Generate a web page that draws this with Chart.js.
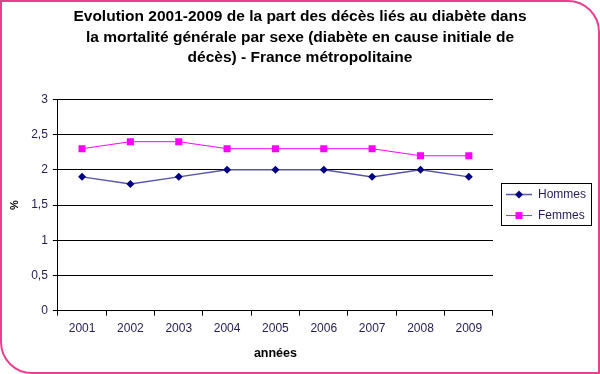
<!DOCTYPE html>
<html>
<head>
<meta charset="utf-8">
<script src="https://cdn.jsdelivr.net/npm/chart.js@4/dist/chart.umd.min.js"></script>
<style>
    html, body { margin: 0; padding: 0; background: #fff; }
    #cadre {
        width: 600px; height: 374px; box-sizing: border-box;
        border: 2px solid #e8408f; border-radius: 0 32px 0 32px;
        overflow: hidden;
    }
    canvas { display: block; }
</style>
</head>
<body>
<div id="cadre"><canvas id="graphique" width="596" height="370"></canvas></div>
<script>
// ================= DONNÉES =================
const annees  = ['2001', '2002', '2003', '2004', '2005', '2006', '2007', '2008', '2009'];
const hommes  = [1.9, 1.8, 1.9, 2.0, 2.0, 2.0, 1.9, 2.0, 1.9];
const femmes  = [2.3, 2.4, 2.4, 2.3, 2.3, 2.3, 2.3, 2.2, 2.2];
const yTicks  = ['0', '0,5', '1', '1,5', '2', '2,5', '3'];
const titre   = [
    'Evolution 2001-2009 de la part des décès liés au diabète dans',
    'la mortalité générale par sexe (diabète en cause initiale de',
    'décès) - France métropolitaine'
];

const police = 'Arial, "Liberation Sans", sans-serif';
const couleurTexte = '#241c55';

// symbole de légende : trait + marqueur
function symbole(ligne, marque, forme) {
    const c = document.createElement('canvas');
    c.width = 26; c.height = 11;
    const ctx = c.getContext('2d');
    ctx.strokeStyle = ligne;
    ctx.lineWidth = forme === 'rectRot' ? 1.5 : 1;
    ctx.beginPath(); ctx.moveTo(0, 5.5); ctx.lineTo(26, 5.5); ctx.stroke();
    ctx.fillStyle = marque;
    if (forme === 'rectRot') {
        ctx.beginPath();
        ctx.moveTo(13, 1.5); ctx.lineTo(17, 5.5); ctx.lineTo(13, 9.5); ctx.lineTo(9, 5.5);
        ctx.closePath(); ctx.fill();
    } else {
        ctx.fillRect(9.5, 2, 7, 7);
    }
    return c;
}

// légende décalée + cadre autour
const cadreLegende = {
    id: 'cadreLegende',
    afterLayout(chart) {
        const lg = chart.legend;
        const dx = chart.chartArea.right + 4 - lg.left;
        lg.left += dx;
        lg.right += dx;
    },
    afterDraw(chart) {
        const boxes = chart.legend.legendHitBoxes;
        if (!boxes || !boxes.length) return;
        const left = Math.min(...boxes.map(b => b.left)) - 5;
        const right = Math.max(...boxes.map(b => b.left + b.width)) + 5;
        const top = Math.min(...boxes.map(b => b.top)) - 6;
        const bottom = Math.max(...boxes.map(b => b.top + b.height)) + 3;
        const ctx = chart.ctx;
        ctx.save();
        ctx.strokeStyle = '#000';
        ctx.lineWidth = 1;
        ctx.strokeRect(Math.round(left) + 0.5, Math.round(top) + 0.5, Math.round(right - left), Math.round(bottom - top));
        ctx.restore();
    }
};

new Chart(document.getElementById('graphique'), {
    type: 'line',
    data: {
        labels: annees,
        datasets: [{
            label: 'Hommes',
            data: hommes,
            borderColor: '#5454a8',
            borderWidth: 1.5,
            pointStyle: 'rectRot',
            pointRadius: 4,
            pointBackgroundColor: '#000080',
            pointBorderColor: '#000080',
            pointBorderWidth: 0,
            tension: 0
        }, {
            label: 'Femmes',
            data: femmes,
            borderColor: '#ff00ff',
            borderWidth: 1,
            pointStyle: 'rect',
            pointRadius: 5,
            pointBackgroundColor: '#ff00ff',
            pointBorderColor: '#ff00ff',
            pointBorderWidth: 0,
            tension: 0
        }]
    },
    options: {
        responsive: false,
        animation: false,
        layout: { padding: { left: 6, right: 6, top: 0, bottom: 11 } },
        plugins: {
            title: {
                display: true,
                text: titre,
                color: '#000',
                font: { family: police, size: 15.5, weight: 'bold', lineHeight: 1.3 },
                padding: { top: 5, bottom: 32 }
            },
            legend: {
                position: 'right',
                fullSize: false,
                labels: {
                    usePointStyle: true,
                    pointStyleWidth: 26,
                    color: couleurTexte,
                    font: { family: police, size: 12 },
                    padding: 9,
                    generateLabels: () => [
                        { text: 'Hommes', pointStyle: symbole('#5454a8', '#000080', 'rectRot'), datasetIndex: 0, fontColor: couleurTexte, lineWidth: 0, strokeStyle: 'transparent', fillStyle: 'transparent' },
                        { text: 'Femmes', pointStyle: symbole('#ff00ff', '#ff00ff', 'rect'), datasetIndex: 1, fontColor: couleurTexte, lineWidth: 0, strokeStyle: 'transparent', fillStyle: 'transparent' }
                    ]
                }
            },
            tooltip: { enabled: false }
        },
        scales: {
            x: {
                offset: true,
                grid: { drawOnChartArea: false, drawTicks: true, tickLength: 5, color: '#000', offset: true },
                border: { color: '#000', width: 1 },
                ticks: { color: couleurTexte, font: { family: police, size: 12 }, padding: 6, maxRotation: 0 },
                title: {
                    display: true, text: 'années', color: '#000',
                    font: { family: police, size: 12.5, weight: 'bold' }, padding: { top: 4, bottom: 0 }
                }
            },
            y: {
                min: 0, max: 3,
                grid: { color: '#000', tickLength: 5 },
                border: { color: '#000', width: 1 },
                ticks: {
                    stepSize: 0.5, color: couleurTexte, font: { family: police, size: 12 }, padding: 5,
                    callback: (v) => yTicks[Math.round(v * 2)]
                },
                title: {
                    display: true, text: '%', color: '#000',
                    font: { family: police, size: 11, weight: 'bold' }, padding: { top: 0, bottom: 5 }
                }
            }
        }
    },
    plugins: [cadreLegende]
});
</script>
</body>
</html>
